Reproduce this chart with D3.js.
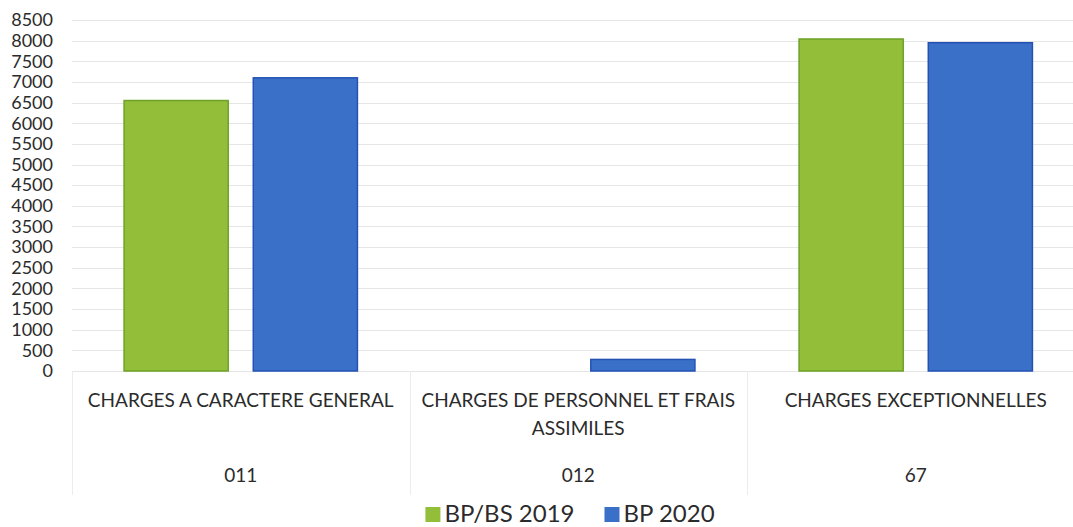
<!DOCTYPE html>
<html>
<head>
<meta charset="utf-8">
<script src="https://cdn.jsdelivr.net/npm/d3@7"></script>
<style>
  body { margin: 0; background: #fff; }
  svg { display: block; font-family: Lato, "Open Sans", sans-serif; }
</style>
</head>
<body>
<svg id="chart" width="1073" height="527"></svg>
<script>
// Data
const codes = ["011", "012", "67"];
const labels = [
  ["CHARGES A CARACTERE GENERAL"],
  ["CHARGES DE PERSONNEL ET FRAIS", "ASSIMILES"],
  ["CHARGES EXCEPTIONNELLES"],
];
const series = ["BP/BS 2019", "BP 2020"];
const bp2019 = [6550, 0, 8040];
const bp2020 = [7100, 280, 7950];
const yTicks = d3.range(0, 8501, 500);

const colors = { fill: ["#92be3a", "#3b70c9"], stroke: ["#6da226", "#2452b4"] };

const svg = d3.select("#chart");
const W = 1073, H = 527;
// the plot runs a little past the right edge of the picture
const plotLeft = 72, plotRight = 1084.5, plotTop = 20, plotBottom = 371;

const x = d3.scaleBand().domain(codes).range([plotLeft, plotRight]);
// bars ~104px wide, 25px apart, centred in each category
const xInner = d3.scaleBand().domain(series).range([0, x.bandwidth()])
  .paddingInner(0.194).paddingOuter(0.403);
const y = d3.scaleLinear().domain([0, 8500]).range([plotBottom, plotTop]);

// gridlines
svg.append("g")
  .selectAll("line")
  .data(yTicks)
  .join("line")
  .attr("x1", plotLeft)
  .attr("x2", plotRight)
  .attr("y1", d => Math.round(y(d)) + 0.5)
  .attr("y2", d => Math.round(y(d)) + 0.5)
  .attr("stroke", "#e6e6e6")
  .attr("stroke-width", 1);

// y axis labels
const yAxis = d3.axisLeft(y).tickValues(yTicks).tickFormat(d3.format("d")).tickSize(0).tickPadding(0);
const gy = svg.append("g").attr("transform", `translate(${plotLeft - 19},0)`).call(yAxis);
gy.select(".domain").remove();
gy.selectAll("text")
  .attr("font-size", 18)
  .attr("fill", "#2b2b2b")
  .attr("font-family", "Lato, sans-serif");

// category separators below axis
const seps = codes.map(c => x(c)).concat([x(codes[codes.length - 1]) + x.bandwidth()]);
svg.append("g")
  .selectAll("line")
  .data(seps)
  .join("line")
  .attr("x1", d => Math.round(d) + 0.5)
  .attr("x2", d => Math.round(d) + 0.5)
  .attr("y1", y(0))
  .attr("y2", 495)
  .attr("stroke", "#ececec");

// bars
const rows = codes.map((c, i) => ({ code: c, vals: [bp2019[i], bp2020[i]] }));
const groups = svg.append("g")
  .selectAll("g")
  .data(rows)
  .join("g")
  .attr("transform", d => `translate(${x(d.code)},0)`);

groups.selectAll("rect")
  .data(d => d.vals.map((v, k) => ({ s: series[k], v, k })).filter(e => e.v > 0))
  .join("rect")
  .attr("x", d => xInner(d.s))
  .attr("width", xInner.bandwidth())
  .attr("y", d => y(d.v))
  .attr("height", d => y(0) - y(d.v))
  .attr("fill", d => colors.fill[d.k])
  .attr("stroke", d => colors.stroke[d.k])
  .attr("stroke-width", 1.5);

// category labels
const labG = svg.append("g").attr("fill", "#2b2b2b").attr("text-anchor", "middle");
codes.forEach((c, i) => {
  const cx = x(c) + x.bandwidth() / 2;
  labels[i].forEach((line, j) => {
    labG.append("text")
      .attr("x", cx)
      .attr("y", 407 + j * 28)
      .attr("font-size", 19)
      .text(line);
  });
  labG.append("text")
    .attr("x", cx)
    .attr("y", 482)
    .attr("font-size", 19)
    .text(c);
});

// legend
const legend = svg.append("g");
let lx = 0;
series.forEach((s, k) => {
  legend.append("rect")
    .attr("x", lx).attr("y", -15).attr("width", 15).attr("height", 15)
    .attr("fill", colors.fill[k]);
  const t = legend.append("text")
    .attr("x", lx + 19).attr("y", 0)
    .attr("font-size", 24)
    .attr("fill", "#2b2b2b")
    .text(s);
  lx += 19 + t.node().getComputedTextLength() + 30;
});
const legW = lx - 30;
legend.attr("transform", `translate(${570 - legW / 2},522)`);
</script>
</body>
</html>
